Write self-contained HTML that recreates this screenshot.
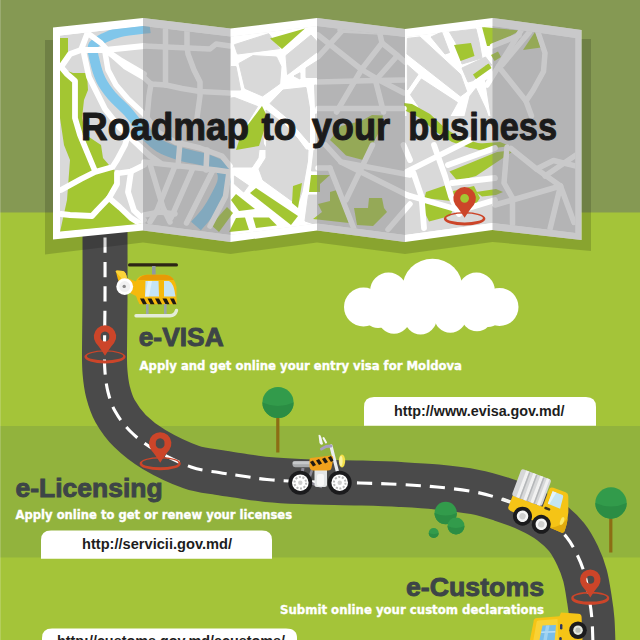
<!DOCTYPE html>
<html lang="en"><head><meta charset="utf-8"><title>Roadmap to your business</title>
<style>html,body{margin:0;padding:0;background:#a4c439}body{width:640px;height:640px;overflow:hidden}svg{display:block}</style>
</head><body>
<svg width="640" height="640" viewBox="0 0 640 640">
<defs>
<clipPath id="mapclip"><polygon points="53,27.5 143,18 230.5,28.5 317,18 405,29 492.5,18 581.5,30 581.5,240 492.5,230 405,242 317,230.5 230.5,242 143,230.5 53,239.5"/></clipPath>
<clipPath id="innerclip"><polygon points="60,35.5 143,26 230.5,36.5 317,26 405,37 492.5,26 575.5,38 575.5,233 492.5,223 405,235 317,223.5 230.5,235 143,223.5 60,231.5"/></clipPath>
</defs>
<rect width="640" height="640" fill="#a4c439"/>
<rect width="640" height="212.5" fill="#859953"/>
<rect y="426" width="640" height="131.5" fill="#92b33d"/>
<path d="M105,222 C105.0,235.0 105.1,278.7 105,300 C104.9,321.3 104.5,338.0 104.5,350 C104.5,362.0 104.4,365.0 105,372 C105.6,379.0 106.3,385.5 108,392 C109.7,398.5 111.3,404.5 115,411 C118.7,417.5 123.5,424.6 130,431 C136.5,437.4 143.8,443.5 154,449.5 C164.2,455.5 180.2,463.2 191,467 C201.8,470.8 210.5,471.0 219,472.5 C227.5,474.0 234.0,474.8 242,476 C250.0,477.2 257.3,478.6 267,479.5 C276.7,480.4 284.5,480.9 300,481.5 C315.5,482.1 343.3,482.5 360,483 C376.7,483.5 387.2,483.8 400,484.5 C412.8,485.2 424.5,485.8 437,487 C449.5,488.2 464.3,490.0 475,492 C485.7,494.0 492.1,496.1 501,499 C509.9,501.9 520.2,505.7 528.5,509.5 C536.8,513.3 544.2,517.4 550.5,522 C556.8,526.6 562.0,531.4 566.5,537 C571.0,542.6 574.4,549.1 577.5,555.5 C580.6,561.9 583.0,568.1 585,575.5 C587.0,582.9 588.3,592.6 589.5,600 C590.7,607.4 591.4,612.5 592,620 C592.6,627.5 592.8,640.8 593,645" fill="none" stroke="#4a4a4a" stroke-width="45"/>
<path d="M105,222 C105.0,235.0 105.1,278.7 105,300 C104.9,321.3 104.5,338.0 104.5,350 C104.5,362.0 104.4,365.0 105,372 C105.6,379.0 106.3,385.5 108,392 C109.7,398.5 111.3,404.5 115,411 C118.7,417.5 123.5,424.6 130,431 C136.5,437.4 143.8,443.5 154,449.5 C164.2,455.5 180.2,463.2 191,467 C201.8,470.8 210.5,471.0 219,472.5 C227.5,474.0 234.0,474.8 242,476 C250.0,477.2 257.3,478.6 267,479.5 C276.7,480.4 284.5,480.9 300,481.5 C315.5,482.1 343.3,482.5 360,483 C376.7,483.5 387.2,483.8 400,484.5 C412.8,485.2 424.5,485.8 437,487 C449.5,488.2 464.3,490.0 475,492 C485.7,494.0 492.1,496.1 501,499 C509.9,501.9 520.2,505.7 528.5,509.5 C536.8,513.3 544.2,517.4 550.5,522 C556.8,526.6 562.0,531.4 566.5,537 C571.0,542.6 574.4,549.1 577.5,555.5 C580.6,561.9 583.0,568.1 585,575.5 C587.0,582.9 588.3,592.6 589.5,600 C590.7,607.4 591.4,612.5 592,620 C592.6,627.5 592.8,640.8 593,645" fill="none" stroke="#fff" stroke-width="3.1" stroke-dasharray="15.3 9.06" stroke-dashoffset="-15.5"/>
<polygon points="45,40 591,39 591,251 492.5,242 405,254 317,242.5 230.5,254 143,242.5 45,254.5" fill="#000" opacity=".16"/>
<polygon points="53,27.5 143,18 230.5,28.5 317,18 405,29 492.5,18 581.5,30 581.5,240 492.5,230 405,242 317,230.5 230.5,242 143,230.5 53,239.5" fill="#fff"/>
<g clip-path="url(#innerclip)">
<polygon points="60,35.5 143,26 230.5,36.5 317,26 405,37 492.5,26 575.5,38 575.5,233 492.5,223 405,235 317,223.5 230.5,235 143,223.5 60,231.5" fill="#d9d9d9"/>
<polygon points="230.5,20 317,20 317,150 268,150 264,144 262,106 236,150 230.5,150" fill="#fff"/>
<polygon points="405,20 492.5,20 492.5,116 405,116" fill="#fff"/>
<polygon points="230.5,150 317,150 317,240 230.5,240" fill="#fff"/>
<polygon points="234.4,44.7 268.7,33.7 279.7,48.6 237.5,54" fill="#d9d9d9" stroke="#d9d9d9" stroke-width="1" stroke-linejoin="round"/>
<polygon points="239,63.4 253,55.6 276.5,57 281,66.5 279.7,83.7 262.5,96 245,88.4" fill="#d9d9d9" stroke="#d9d9d9" stroke-width="1" stroke-linejoin="round"/>
<polygon points="286,55.6 311,35 317,41.5 317,52 287.5,74.4" fill="#d9d9d9" stroke="#d9d9d9" stroke-width="1" stroke-linejoin="round"/>
<polygon points="306,68 317,61 317,77.5 306,77.5" fill="#d9d9d9" stroke="#d9d9d9" stroke-width="1" stroke-linejoin="round"/>
<polygon points="294,76 300,72.8 300,79" fill="#d9d9d9" stroke="#d9d9d9" stroke-width="1" stroke-linejoin="round"/>
<polygon points="283,90 306,87.5 309.5,108 309.5,143 300,132 287.5,118 270,103.5" fill="#d9d9d9" stroke="#d9d9d9" stroke-width="1" stroke-linejoin="round"/>
<polygon points="234.4,97.5 257.5,106.5 241,133 236,150 231,150 231,98" fill="#d9d9d9" stroke="#d9d9d9" stroke-width="1" stroke-linejoin="round"/>
<polygon points="231,66.5 236,66.5 240.6,90 231,90" fill="#d9d9d9" stroke="#d9d9d9" stroke-width="1" stroke-linejoin="round"/>
<polygon points="314.5,85 317,85 317,108.5 315.5,108.5" fill="#d9d9d9" stroke="#d9d9d9" stroke-width="1" stroke-linejoin="round"/>
<polygon points="315.5,114 317,114 317,150 315.5,150" fill="#d9d9d9" stroke="#d9d9d9" stroke-width="1" stroke-linejoin="round"/>
<polygon points="266,110 284,124 297,138 306,150 266.5,150" fill="#d9d9d9" stroke="#d9d9d9" stroke-width="1" stroke-linejoin="round"/>
<polygon points="266,150 308,150 307.5,161 302,192 297.5,205 263,180 259,169 266,158" fill="#d9d9d9" stroke="#d9d9d9" stroke-width="1" stroke-linejoin="round"/>
<polygon points="231,150 259,150 258,158 252,167 231,167" fill="#d9d9d9" stroke="#d9d9d9" stroke-width="1" stroke-linejoin="round"/>
<polygon points="234.4,176 248.4,185.6 243.7,192 234.4,184" fill="#d9d9d9" stroke="#d9d9d9" stroke-width="1" stroke-linejoin="round"/>
<polygon points="314,150 317,150 317,171 311.5,171" fill="#d9d9d9" stroke="#d9d9d9" stroke-width="1" stroke-linejoin="round"/>
<polygon points="308.5,195 317,195 317,225 305,221" fill="#d9d9d9" stroke="#d9d9d9" stroke-width="1" stroke-linejoin="round"/>
<polygon points="407.4,38.4 420,37 460.5,74.4 466.7,91.5 460.5,96 407,54" fill="#d9d9d9" stroke="#d9d9d9" stroke-width="1" stroke-linejoin="round"/>
<polygon points="431,37 441.7,32 449.5,52.5 445,54" fill="#d9d9d9" stroke="#d9d9d9" stroke-width="1" stroke-linejoin="round"/>
<polygon points="449.5,32 476,29 479,41.5 482,58 462,64 456,43" fill="#d9d9d9" stroke="#d9d9d9" stroke-width="1" stroke-linejoin="round"/>
<polygon points="462,68 485.5,57 491.7,65 473,80.6 468,82" fill="#d9d9d9" stroke="#d9d9d9" stroke-width="1" stroke-linejoin="round"/>
<polygon points="407.4,65 418,74.4 407.4,90" fill="#d9d9d9" stroke="#d9d9d9" stroke-width="1" stroke-linejoin="round"/>
<polygon points="421.4,79 457.4,102.5 450,116 423,116 418,105.6 410.5,94.7" fill="#d9d9d9" stroke="#d9d9d9" stroke-width="1" stroke-linejoin="round"/>
<polygon points="476,88.4 485.5,108.7 488,116 465,116 470,96" fill="#d9d9d9" stroke="#d9d9d9" stroke-width="1" stroke-linejoin="round"/>
<polygon points="485.5,80.6 492.5,77.5 492.5,116 491,116" fill="#d9d9d9" stroke="#d9d9d9" stroke-width="1" stroke-linejoin="round"/>
<polygon points="407,110 416,116 407,116" fill="#d9d9d9" stroke="#d9d9d9" stroke-width="1" stroke-linejoin="round"/>
<polygon points="60,38 68,38 68,60 60,66" fill="#a3c632"/>
<polygon points="60,68 73,73 87,73 88,90 84,100 82,118 60,118" fill="#a3c632"/>
<polygon points="60,118 82,118 86,135 101,145 103,158 109,165 117,173 117,186 109,200 120,208 144,226 144,232 60,232 67,200 70,160 64,145" fill="#a3c632"/>
<polygon points="211,225 227,207 233,213 219,232" fill="#a3c632"/>
<polygon points="270,38.5 305,28.5 282,49" fill="#a3c632"/>
<polygon points="262,106 268,118 259,146 236,150 241,134" fill="#a3c632"/>
<polygon points="250,193 256,188 298,216 291,225" fill="#a3c632"/>
<polygon points="231,200 236,194 255,209 239,211" fill="#a3c632"/>
<polygon points="229,232 236,218 245,217.5 249,230" fill="#a3c632"/>
<polygon points="253,217.5 269,217.5 277,225.5 256,228" fill="#a3c632"/>
<polygon points="293,186 302,183 298,208 292,203" fill="#a3c632"/>
<polygon points="311,175 330,175 320,184 320,192 309,192" fill="#a3c632"/>
<polygon points="330,140 341,126 361,121 372,115 383,115.5 379,132 372.5,144.5 363,160 346,155.5 338,147.5" fill="#a3c632"/>
<polygon points="318,204 330,201 330,192 337,190 349,223 313,219 322,212" fill="#a3c632"/>
<polygon points="354,208 368,208 369,198 382,198 384,208 387,212 373,226 357,225" fill="#a3c632"/>
<polygon points="454,45 471,43 474.5,56 460.5,61" fill="#a3c632"/>
<polygon points="473,74.5 488.5,63.5 491.5,68 476,79" fill="#a3c632"/>
<polygon points="482,27 520,30.5 492.7,46 487,46" fill="#a3c632"/>
<polygon points="404,103 412,104 430,114 445,128 460,138 478,143 492,146 492,150 470,148 452,142 436,132 420,118 404,110" fill="#a3c632"/>
<polygon points="523,50 535,32 541,47.5" fill="#a3c632"/>
<polygon points="491,55 498,51.5 501,57 494.5,61" fill="#a3c632"/>
<polygon points="485,66 489,64 491,68 487,70" fill="#a3c632"/>
<polygon points="449.5,171.5 497,152 515,150 497,162 476,176 457.5,181" fill="#a3c632"/>
<polygon points="460.5,145 500,142 510,146 479,150" fill="#a3c632"/>
<polygon points="426,192 445,185.5 451,201 424.5,198" fill="#a3c632"/>
<polygon points="424.5,201 452.5,210.5 450,216 429,221.5 424.5,212" fill="#a3c632"/>
<polygon points="476,192 496,189 503,192 496,195 482,196.5" fill="#a3c632"/>
<polygon points="453,191 474,186 480,198 472,210 457,211" fill="#a3c632"/>
<path d="M150,28 C145.0,28.7 127.7,30.3 120,32 C112.3,33.7 108.5,35.7 104,38 C99.5,40.3 94.5,42.0 93,46 C91.5,50.0 93.7,56.3 95,62 C96.3,67.7 98.2,74.3 101,80 C103.8,85.7 107.5,90.7 112,96 C116.5,101.3 122.5,105.8 128,112 C133.5,118.2 139.7,127.3 145,133 C150.3,138.7 157.5,143.8 160,146" fill="none" stroke="#80c6ea" stroke-width="10"/>
<path d="M140,127 C140.8,128.0 141.7,129.8 145,133 C148.3,136.2 154.2,142.5 160,146 C165.8,149.5 172.5,151.7 180,154 C187.5,156.3 198.2,157.8 205,160 C211.8,162.2 217.8,164.0 221,167.5 C224.2,171.0 224.7,176.1 224,181 C223.3,185.9 219.7,191.8 217,197 C214.3,202.2 211.5,207.2 208,212 C204.5,216.8 198.0,223.7 196,226" fill="none" stroke="#80c6ea" stroke-width="13"/>
<g fill="none" stroke="#fff" stroke-linecap="round" stroke-linejoin="round">
<polyline points="61,67 70,54 81,50 105,50 120,48.5 144,46" stroke-width="5.8"/>
<polyline points="61,67 67,74 75,81 75,118 80,135 95,171" stroke-width="5.8"/>
<polyline points="87.5,33 81,50" stroke-width="5.8"/>
<polyline points="87.5,33 101,43 112,55 125,66.5 144,77.5 151,84 166,85 182,88.5 200,91.5 229,93" stroke-width="5.5"/>
<polyline points="84,54 89,77 97,93 105,109 120,128 136,143 150,156 160,163" stroke-width="5.8"/>
<polyline points="105,52 108,70 116,85 128,99 144,114 158,132 175,142 200,148 222,156 230,166" stroke-width="5.5"/>
<polyline points="105,50 120,60 144,74" stroke-width="5.8"/>
<polyline points="144,46 210,49 216,44 230,46" stroke-width="5.5"/>
<polyline points="165.5,30 165.5,85" stroke-width="5.5"/>
<polyline points="187,30 187,46 188,54 194,70 200,82 200,96 197,118" stroke-width="5.5"/>
<polyline points="151,84 149,96 147,118" stroke-width="5.5"/>
<polyline points="61,190 81,179 95,172 112.5,167 117,160 125,145 128,135" stroke-width="5.8"/>
<polyline points="117,173 117,184 109,198 97,210.5 92,216 70,215 61,214" stroke-width="5.8"/>
<polyline points="109,198 120,207.5 131,218 144,226" stroke-width="5.8"/>
<polyline points="120,173 131,171.5 144,165" stroke-width="5.8"/>
<polyline points="131,171.5 128,192 134,210.5 144,220" stroke-width="5.8"/>
<polyline points="144,162 216,170 230,172" stroke-width="5.5"/>
<polyline points="150,164 163,207.5 170,222" stroke-width="5.5"/>
<polyline points="175,166 157,210.5 150,222" stroke-width="5.5"/>
<polyline points="193,168 171,218" stroke-width="5.5"/>
<polyline points="213,170 186.5,223" stroke-width="5.5"/>
<polyline points="180,142 178,166" stroke-width="5.5"/>
<polyline points="207,150 206,170" stroke-width="5.5"/>
<polyline points="229,172 225.5,196.5 210,226" stroke-width="5.5"/>
<polyline points="144,215 160,212 175,214" stroke-width="5.5"/>
<polyline points="318,57 341,32" stroke-width="5.5"/>
<polyline points="318,82 376,80.5 404,80" stroke-width="5.5"/>
<polyline points="318,35 361.5,69.5 380,80.5 404,93" stroke-width="5.5"/>
<polyline points="361.5,69.5 382,43 379,30" stroke-width="5.5"/>
<polyline points="382,43 397.5,55.5 405,62" stroke-width="5.5"/>
<polyline points="397.5,55.5 375.5,80.5 383.5,112" stroke-width="5.5"/>
<polyline points="361.5,69.5 336.5,112" stroke-width="5.5"/>
<polyline points="318,108.5 404,108.5" stroke-width="5.5"/>
<polyline points="340,30 400,33" stroke-width="5.5"/>
<polyline points="330,168 354,229" stroke-width="5.5"/>
<polyline points="325.5,145 341,162 410,196.5" stroke-width="5.5"/>
<polyline points="341,162 410,175" stroke-width="5.5"/>
<polyline points="372.5,145 346,200" stroke-width="5.5"/>
<polyline points="403.5,145 410,160" stroke-width="5.8"/>
<polyline points="410,204 388,229.5" stroke-width="5.5"/>
<polyline points="318,168 330,168" stroke-width="5.5"/>
<polyline points="434,145 445,176 451,196.5 459,214" stroke-width="5.8"/>
<polyline points="407,171.5 448,151 470,140" stroke-width="5.8"/>
<polyline points="448,165 495,148" stroke-width="5.8"/>
<polyline points="407,195 460.5,210.5 495,200" stroke-width="5.8"/>
<polyline points="413.5,173 421.5,196.5 424,228" stroke-width="5.8"/>
<polyline points="452,183 495,178" stroke-width="5.8"/>
<polyline points="521,30.5 498.5,66.5 487,85" stroke-width="5.5"/>
<polyline points="529.5,32 502,65" stroke-width="5.5"/>
<polyline points="498.5,66.5 526,101 531.5,116" stroke-width="5.5"/>
<polyline points="538,32 545,53 543.5,71.5 533,90.5 526,101" stroke-width="5.5"/>
<polyline points="492.5,46 519,35.5" stroke-width="5.5"/>
<polyline points="507,147 504,183 512.5,198 512.5,224" stroke-width="5.5"/>
<polyline points="511,148.5 536.5,169 560.5,186 574,222.5" stroke-width="5.5"/>
<polyline points="512.5,200 536.5,193 560.5,186" stroke-width="5.5"/>
<polyline points="560.5,186 550,229" stroke-width="5.5"/>
<polyline points="536.5,169 553.5,160.5 576,166" stroke-width="5.5"/>
<polyline points="545,176 576,155" stroke-width="5.5"/>
<polyline points="495,205 512.5,200" stroke-width="5.5"/>
</g>
</g>
<g clip-path="url(#mapclip)">
<rect x="143" y="0" width="87.5" height="260" fill="#848486" opacity=".44"/>
<rect x="317" y="0" width="88" height="260" fill="#848486" opacity=".44"/>
<rect x="492.5" y="0" width="89" height="260" fill="#848486" opacity=".44"/>
</g>
<g>
<path fill-rule="evenodd" fill="#cc4529" d="M443.8,218.8 a20.8,6.7 0 1 0 41.6,0 a20.8,6.7 0 1 0 -41.6,0Z M446.3,218.0 a18.3,4.4 0 1 0 36.6,0 a18.3,4.4 0 1 0 -36.6,0Z"/>
<path fill-rule="evenodd" d="M464.6,217.7 Q459.5,209.6 455.4,204.9 A11.3,11.3 0 1 1 473.8,204.9 Q469.7,209.6 464.6,217.7Z M460.2,198.3 a4.4,4.4 0 1 0 8.8,0 a4.4,4.4 0 1 0 -8.8,0Z" fill="#cc4529"/>
</g>
<text y="139.5" font-family="'Liberation Sans',sans-serif" font-weight="bold" font-size="39.5" fill="#1b1b1b" stroke="#1b1b1b" stroke-width="1.1" stroke-linejoin="round"><tspan x="81" textLength="168" lengthAdjust="spacingAndGlyphs">Roadmap</tspan> <tspan x="261.5" textLength="35" lengthAdjust="spacingAndGlyphs">to</tspan> <tspan x="311.7" textLength="78.5" lengthAdjust="spacingAndGlyphs">your</tspan> <tspan x="408.2" textLength="148.8" lengthAdjust="spacingAndGlyphs">business</tspan></text>
<g fill="#fff">
<ellipse cx="432.5" cy="288" rx="30" ry="29.2"/>
<circle cx="388.5" cy="291" r="18.5"/>
<circle cx="476.5" cy="291" r="18.5"/>
<circle cx="363.5" cy="307" r="19.5"/>
<circle cx="499.5" cy="307" r="19"/>
<circle cx="394" cy="317.7" r="16"/>
<circle cx="420.6" cy="318.4" r="16"/>
<circle cx="450.3" cy="316.8" r="16"/>
<circle cx="477" cy="315.2" r="16"/>
<circle cx="378" cy="314" r="14"/>
<circle cx="488" cy="313" r="14"/>
<rect x="364" y="292" width="136" height="26"/>
</g>
<rect x="276.2" y="415.1" width="3.2" height="37.4" fill="#8c6d14"/>
<circle cx="278" cy="402.5" r="15.6" fill="#329b4b"/>
<path d="M262.4,402.5 A15.6,15.6 0 0 0 293.6,402.5 Q278,409.5 262.4,402.5Z" fill="#2b8d44"/>
<rect x="609.2" y="515.7" width="3.2" height="36.8" fill="#8c6d14"/>
<circle cx="611" cy="503" r="15.7" fill="#329b4b"/>
<path d="M595.3,503 A15.7,15.7 0 0 0 626.7,503 Q611,510 595.3,503Z" fill="#2b8d44"/>
<circle cx="445.7" cy="513" r="11.2" fill="#329b4b"/>
<path d="M434.5,513 A11.2,11.2 0 0 0 456.9,513 Q445.7,518.04 434.5,513Z" fill="#2b8d44"/>
<circle cx="456" cy="526" r="8.5" fill="#329b4b"/>
<path d="M447.5,526 A8.5,8.5 0 0 0 464.5,526 Q456,529.825 447.5,526Z" fill="#2b8d44"/>
<circle cx="433.7" cy="533" r="5" fill="#329b4b"/>
<path d="M428.7,533 A5,5 0 0 0 438.7,533 Q433.7,535.25 428.7,533Z" fill="#2b8d44"/>
<g>
<path fill-rule="evenodd" fill="#cc4529" d="M84.4,356.8 a20.6,6.6 0 1 0 41.2,0 a20.6,6.6 0 1 0 -41.2,0Z M86.9,356.0 a18.1,4.4 0 1 0 36.3,0 a18.1,4.4 0 1 0 -36.3,0Z"/>
<path fill-rule="evenodd" d="M105,355.8 Q100.0,347.7 95.9,343.0 A11.2,11.2 0 1 1 114.1,343.0 Q110.0,347.7 105,355.8Z M100.6,336.5 a4.4,4.4 0 1 0 8.7,0 a4.4,4.4 0 1 0 -8.7,0Z" fill="#cc4529"/>
</g>
<g>
<path fill-rule="evenodd" fill="#cc4529" d="M139.6,463.7 a20.6,6.6 0 1 0 41.2,0 a20.6,6.6 0 1 0 -41.2,0Z M142.1,462.9 a18.1,4.4 0 1 0 36.3,0 a18.1,4.4 0 1 0 -36.3,0Z"/>
<path fill-rule="evenodd" d="M160.2,462.7 Q155.2,454.6 151.1,449.9 A11.2,11.2 0 1 1 169.3,449.9 Q165.2,454.6 160.2,462.7Z M155.8,443.4 a4.4,4.4 0 1 0 8.7,0 a4.4,4.4 0 1 0 -8.7,0Z" fill="#cc4529"/>
</g>
<g>
<path fill-rule="evenodd" fill="#cc4529" d="M571.3,598.3 a19.0,6.1 0 1 0 37.9,0 a19.0,6.1 0 1 0 -37.9,0Z M573.6,597.6 a16.7,4.0 0 1 0 33.4,0 a16.7,4.0 0 1 0 -33.4,0Z"/>
<path fill-rule="evenodd" d="M590.3,597.4 Q585.7,590.0 581.9,585.7 A10.3,10.3 0 1 1 598.7,585.7 Q594.9,590.0 590.3,597.4Z M586.3,579.7 a4.0,4.0 0 1 0 8.0,0 a4.0,4.0 0 1 0 -8.0,0Z" fill="#cc4529"/>
</g>
<g>
<rect x="128" y="263.3" width="50" height="3.3" rx="1.6" fill="#2d2416"/>
<rect x="152" y="266" width="3.6" height="9" fill="#8f9aa0"/>
<path d="M116,272 Q115,270.5 117,270.5 L123,271 Q126,272 127,278 L140,283 L140,298 L128,292 Q119,288 116,272Z" fill="#f6b90c"/>
<path d="M116,272 Q115,270.5 117,270.5 L123,271 Q126,272 127,278 L122,279 Z" fill="#fbd43a"/>
<path d="M135,287 Q135,275 147,274.7 L165,274.7 Q174,275 176.5,287 L176.5,304 L139.5,304 Q135,297 135,287Z" fill="#f6b90c"/>
<path d="M138,280 Q141,275 147,274.7 L165,274.7 Q171,275 174,280 Z" fill="#e79a06"/>
<path d="M145.5,281 L158.5,281 L159,296.5 L145,296.5Z" fill="#c4e4f5"/>
<path d="M164,281 L169,281 Q174,283 175.5,296.5 L164,296.5Z" fill="#c4e4f5"/>
<path d="M148,281 L152,281 L149,296.5 L145,296.5Z" fill="#e6f4fb" opacity=".8"/>
<rect x="139.5" y="298.6" width="37" height="5.6" fill="#f6b90c"/>
<g fill="#1e1a14"><path d="M140,298.6 l4,0 l3,5.6 l-4,0z"/><path d="M147.5,298.6 l4,0 l3,5.6 l-4,0z"/><path d="M155,298.6 l4,0 l3,5.6 l-4,0z"/><path d="M162.500,298.6 l4,0 l3,5.6 l-4,0z"/><path d="M170,298.6 l4,0 l2.500,5.6 l-3.500,0z"/></g>
<rect x="146" y="304" width="2.6" height="10" fill="#9aa5a8"/>
<rect x="164" y="304" width="2.6" height="10" fill="#9aa5a8"/>
<path d="M136,315.8 L170,315.8 Q175,315.5 176.5,310.500" fill="none" stroke="#e4ecd9" stroke-width="3.400" stroke-linecap="round"/>
<circle cx="124.700" cy="286.6" r="8.400" fill="#fff"/>
<circle cx="124.700" cy="286.6" r="5.500" fill="#f1f1f1"/>
<circle cx="124.200" cy="286.400" r="1.700" fill="#8a8a8a"/>
</g>
<g>
<path d="M331,446 L340,482" stroke="#e9ecef" stroke-width="3.200" stroke-linecap="round"/>
<path d="M321.500,449 L326,446.500 L331,446" fill="none" stroke="#a79fc0" stroke-width="3" stroke-linecap="round" stroke-linejoin="round"/>
<path d="M318.500,435 Q320.500,434 321.500,438 L323,444 Q321,446 319.500,443Z" fill="#f4f6f4"/>
<path d="M323.500,438 l2.500,4.500" stroke="#f4f6f4" stroke-width="2" stroke-linecap="round"/>
<path d="M303,468 L300.500,482" stroke="#8d8a96" stroke-width="3"/>
<path d="M312,470 L308,482 L322,487" stroke="#8d8a96" stroke-width="2.500" fill="none"/>
<rect x="292.500" y="461.300" width="20" height="6" rx="3" fill="#a9abad"/>
<rect x="292.500" y="461.300" width="20" height="3" rx="1.500" fill="#c6c8ca"/>
<rect x="314.500" y="468" width="12.500" height="19" rx="2.500" fill="#e3e5e6"/>
<rect x="317" y="474" width="7" height="12" rx="2" fill="#f7f7f7"/>
<path d="M311,458 L331,455.500 Q334,456 333,460 L331.500,468 Q331,470.500 328,470.500 L313,470.500 Q309.500,470 309.500,466 L309.500,460 Q309.500,458 311,458Z" fill="#f0a21c"/>
<g fill="#1e1a14"><path d="M310,462 l3,-1.500 l3,4.500 l-3,1.500z"/><path d="M316,460.500 l3,-1.500 l3,4.500 l-3,1.500z"/><path d="M322,459 l3,-1.500 l3,4.500 l-3,1.500z"/><path d="M328,457.500 l3,-1.500 l2.500,4.500 l-2.500,1.500z"/></g>
<ellipse cx="342" cy="461" rx="3.200" ry="6.500" fill="#f3e04a"/>
<ellipse cx="341" cy="461" rx="1.600" ry="5" fill="#fbf3a0"/>
<circle cx="300.300" cy="482.700" r="12" fill="#1b1b1d"/><circle cx="300.300" cy="482.700" r="8.300" fill="#fff"/><circle cx="300.300" cy="482.700" r="5.800" fill="none" stroke="#b9b9b9" stroke-width="2" stroke-dasharray="2 1.600"/><circle cx="300.300" cy="482.700" r="2.200" fill="#cfcfcf"/>
<circle cx="339.700" cy="482.700" r="12" fill="#1b1b1d"/><circle cx="339.700" cy="482.700" r="8.300" fill="#fff"/><circle cx="339.700" cy="482.700" r="5.800" fill="none" stroke="#b9b9b9" stroke-width="2" stroke-dasharray="2 1.600"/><circle cx="339.700" cy="482.700" r="2.200" fill="#cfcfcf"/>
</g>
<g transform="translate(522.5,516.2) rotate(20.5) scale(1.0)">
<rect x="-25.5" y="-10.8" width="11" height="3" rx="1.5" fill="#f2f2ee"/>
<path d="M-16.5,-16 L15.5,-16 L15.5,-34 Q15.5,-37.4 19,-37.4 L32,-37.6 Q35,-37.6 36,-34.5 L41.5,-20 Q44.6,-10 44.6,-1 Q44.6,1.6 42,1.6 L-13,-0.8 Q-16.5,-1.2 -16.500,-4 Z" fill="#f5c416"/>
<path d="M30,1.100 L42,1.600 Q44.600,1.600 44.600,-1 Q44.600,-8 43,-14 Q40,-4 30,1.100Z" fill="#e0ab0e"/>
<rect x="-17.5" y="-44.2" width="32" height="28.4" rx="2.5" fill="#d6d7d8"/>
<g fill="#f1f1f1"><rect x="-12.5" y="-44.2" width="3.2" height="28.4"/><rect x="-5" y="-44.2" width="3.2" height="28.4"/><rect x="2.5" y="-44.2" width="3.2" height="28.4"/><rect x="9.500" y="-44.2" width="3" height="28.4"/></g>
<g fill="#b4b6b8"><rect x="-9.3" y="-43.500" width="1.500" height="27.700"/><rect x="-1.800" y="-43.500" width="1.500" height="27.700"/><rect x="5.700" y="-43.500" width="1.500" height="27.700"/></g>
<path d="M19.400,-34 L29.500,-34 Q31,-34 31.300,-32.500 L32.600,-20.200 L19.400,-20.500Z" fill="#c4e5f4"/>
<path d="M19.400,-34 L23.500,-34 L21,-20.500 L19.400,-20.500Z" fill="#e4f3fa"/>
<rect x="17.5" y="-17" width="6.2" height="2.600" rx="1.200" fill="#3a3320"/>
<ellipse cx="38.800" cy="-9.300" rx="1.800" ry="4.200" fill="#fae769"/>
<circle cx="0" cy="0" r="9.500" fill="#1b1b1d"/><circle cx="0" cy="0" r="5.800" fill="#f4f4f4"/><circle cx="0" cy="0" r="3.200" fill="#cfcfcf"/>
<circle cx="20.400" cy="1" r="9.500" fill="#1b1b1d"/><circle cx="20.400" cy="1" r="5.800" fill="#f4f4f4"/><circle cx="20.400" cy="1" r="3.200" fill="#cfcfcf"/>
</g>
<g>
<path d="M533.5,622 Q533.5,618.300 537,618 L559.500,616.200 L561,612.600 L578.500,613.800 Q581.500,614 581.600,617 L582.500,642 L529.500,642Z" fill="#f5c416"/>
<path d="M536.500,622.500 Q536.500,620.500 538.500,620.400 L557.500,619 L558.500,642 L533,642Z" fill="#f9d235"/>
<path d="M542.500,625.600 L556,625 L554.500,642 L539,642Z" fill="#78bdea"/>
<path d="M541.200,632.300 L555.300,631.800" stroke="#b9dff5" stroke-width="1.600"/>
<path d="M546,625.500 L549.500,625.300 L546.500,642 L543,642Z" fill="#a9d7f3" opacity=".8"/>
<rect x="560" y="624" width="2.400" height="5.500" rx="1.200" fill="#2e3560"/>
<rect x="559.300" y="637" width="2.400" height="5" rx="1.200" fill="#2e3560"/>
<circle cx="578" cy="630.200" r="8.800" fill="#1b1b1d"/><circle cx="578" cy="630.200" r="4.800" fill="#e4e8e0"/><circle cx="578" cy="630.200" r="2.600" fill="#b9bdb6"/>
</g>
<path d="M364,425.800 L364,407 Q364,397 374,397 L586,397 Q596,397 596,407 L596,425.800Z" fill="#fff"/>
<path d="M41,558.800 L41,540 Q41,530.500 51,530.500 L262,530.500 Q272,530.500 272,540 L272,558.800Z" fill="#fff"/>
<path d="M42,645 L42,638 Q42,628.500 52,628.500 L286,628.500 Q297,628.500 297,638 L297,645Z" fill="#fff"/>
<text x="394" y="416" font-family="'Liberation Sans',sans-serif" font-weight="bold" font-size="14.5" fill="#1d1d1d" textLength="170.5" lengthAdjust="spacingAndGlyphs">http://www.evisa.gov.md/</text>
<text x="82" y="548.8" font-family="'Liberation Sans',sans-serif" font-weight="bold" font-size="14.5" fill="#1d1d1d" textLength="150" lengthAdjust="spacingAndGlyphs">http://servicii.gov.md/</text>
<text x="57" y="646" font-family="'Liberation Sans',sans-serif" font-weight="bold" font-size="14.5" fill="#1d1d1d" textLength="228" lengthAdjust="spacingAndGlyphs">http://customs.gov.md/ecustoms/</text>
<text x="138.7" y="346" font-family="'Liberation Sans',sans-serif" font-weight="bold" font-size="25" fill="#3d4547" textLength="85" lengthAdjust="spacingAndGlyphs" stroke="#3d4547" stroke-width=".9">e-VISA</text>
<text x="15.6" y="497" font-family="'Liberation Sans',sans-serif" font-weight="bold" font-size="25" fill="#3d4547" textLength="147" lengthAdjust="spacingAndGlyphs" stroke="#3d4547" stroke-width=".9">e-Licensing</text>
<text x="406" y="596" font-family="'Liberation Sans',sans-serif" font-weight="bold" font-size="25" fill="#3d4547" textLength="138" lengthAdjust="spacingAndGlyphs" stroke="#3d4547" stroke-width=".9">e-Customs</text>
<text x="139.5" y="370" font-family="'DejaVu Sans','Liberation Sans',sans-serif" font-weight="bold" font-size="12" fill="#fff" textLength="322.5" lengthAdjust="spacingAndGlyphs" stroke="#fff" stroke-width=".35">Apply and get online your entry visa for Moldova</text>
<text x="15.6" y="519.2" font-family="'DejaVu Sans','Liberation Sans',sans-serif" font-weight="bold" font-size="12" fill="#fff" textLength="276.5" lengthAdjust="spacingAndGlyphs" stroke="#fff" stroke-width=".35">Apply online to get or renew your licenses</text>
<text x="280" y="613.7" font-family="'DejaVu Sans','Liberation Sans',sans-serif" font-weight="bold" font-size="12" fill="#fff" textLength="264" lengthAdjust="spacingAndGlyphs" stroke="#fff" stroke-width=".35">Submit online your custom declarations</text>
<rect x="0" y="0" width="1" height="640" fill="#fff" opacity=".18"/>
</svg>
</body></html>
